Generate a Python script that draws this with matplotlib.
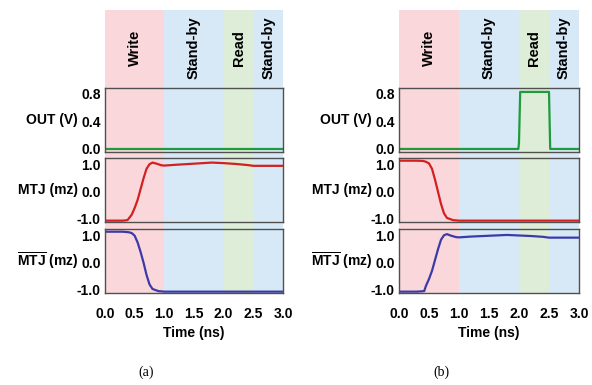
import matplotlib.pyplot as plt

plt.rcParams["font.family"] = ["Liberation Sans", "DejaVu Sans"]
plt.rcParams["font.weight"] = "bold"
plt.rcParams["mathtext.fontset"] = "custom"
plt.rcParams["mathtext.rm"] = "Liberation Sans:bold"
plt.rcParams["mathtext.bf"] = "Liberation Sans:bold"

# phases (ns)
PHASES = [("Write", 0.0, 1.0), ("Stand-by", 1.0, 2.0), ("Read", 2.0, 2.5), ("Stand-by", 2.5, 3.0)]
PHASE_COLORS = ["#fad7da", "#d7e9f6", "#ddedd8", "#d7e9f6"]

X_TICKS = [0.0, 0.5, 1.0, 1.5, 2.0, 2.5, 3.0]

# panel (a): write "1"
t_out_a = [0.0, 3.0]
out_a = [0.0, 0.0]

t_mtj_a = [0.0, 0.3, 0.38, 0.45, 0.5, 0.55, 0.6, 0.65, 0.7, 0.75, 0.8, 0.87, 0.95, 1.0,
           1.2, 1.5, 1.8, 2.0, 2.2, 2.4, 2.5, 2.7, 3.0]
mtj_a = [-1.07, -1.07, -1.05, -0.85, -0.6, -0.3, 0.1, 0.5, 0.85, 1.02, 1.08, 1.04, 0.98, 0.97,
         1.0, 1.04, 1.08, 1.06, 1.03, 0.99, 0.96, 0.96, 0.96]

t_mtjb_a = [0.0, 0.3, 0.4, 0.45, 0.5, 0.55, 0.6, 0.65, 0.7, 0.75, 0.8, 0.9, 1.0, 3.0]
mtjb_a = [1.15, 1.15, 1.13, 1.1, 1.0, 0.75, 0.4, 0.0, -0.45, -0.8, -0.97, -1.05, -1.07, -1.07]

# panel (b): read after write
t_out_b = [0.0, 1.99, 2.0, 2.02, 2.5, 2.52, 3.0]
out_b = [0.0, 0.0, 0.1, 0.83, 0.83, 0.0, 0.0]

t_mtj_b = [0.0, 0.3, 0.4, 0.45, 0.5, 0.55, 0.6, 0.65, 0.7, 0.75, 0.8, 0.9, 1.0, 3.0]
mtj_b = [1.15, 1.15, 1.14, 1.11, 1.05, 0.85, 0.45, 0.0, -0.45, -0.8, -0.97, -1.05, -1.07, -1.07]

t_mtjb_b = [0.0, 0.3, 0.42, 0.45, 0.5, 0.55, 0.6, 0.65, 0.7, 0.75, 0.8, 0.87, 0.95, 1.0,
            1.2, 1.5, 1.8, 2.0, 2.2, 2.4, 2.5, 2.7, 3.0]
mtjb_b = [-1.07, -1.07, -1.05, -0.85, -0.6, -0.3, 0.1, 0.5, 0.85, 1.02, 1.06, 1.0, 0.95, 0.94,
          0.97, 1.0, 1.03, 1.01, 0.99, 0.96, 0.93, 0.93, 0.93]

W, H = 592, 385
FRAME = "#505050"
FS = 10


def px_axes(fig, x0, y_top, w, y_bot):
    return fig.add_axes([x0 / W, 1 - y_bot / H, w / W, (y_bot - y_top) / H])


def draw_panel(fig, x0, w, out, mtj, mtjb, caption):
    bg = px_axes(fig, x0, 10, w, 293)
    bg.set_xlim(0, 3)
    bg.set_ylim(0, 1)
    bg.axis("off")
    for (name, a, b), c in zip(PHASES, PHASE_COLORS):
        bg.axvspan(a, b, color=c, lw=0)
        bg.text((a + b) / 2, 0.866, name, rotation=90, ha="center", va="center",
                fontsize=10.5, fontweight="bold")

    rows = [
        (88, 152, out, "#1f9a3c", (-0.044, 0.887), [0.0, 0.4, 0.8], "OUT (V)"),
        (158, 222, mtj, "#d42020", (-1.12, 1.25), [-1.0, 0.0, 1.0], "MTJ (mz)"),
        (229, 293, mtjb, "#3b3ba8", (-1.12, 1.25), [-1.0, 0.0, 1.0], r"$\overline{\mathrm{MTJ}}$ (mz)"),
    ]
    for i, (yt, yb, (t, v), color, ylim, yticks, label) in enumerate(rows):
        ax = px_axes(fig, x0, yt, w, yb)
        ax.set_facecolor("none")
        ax.plot(t, v, color=color, lw=1.6)
        ax.set_xlim(0, 3)
        ax.set_ylim(*ylim)
        ax.set_yticks(yticks)
        ax.set_yticklabels([f"{y:.1f}" for y in yticks])
        ax.set_xticks(X_TICKS)
        ax.tick_params(length=0, labelsize=FS, pad=3)
        for s in ax.spines.values():
            s.set_color(FRAME)
            s.set_linewidth(1.0)
        ax.set_ylabel(label, rotation=0, ha="right", va="center", fontsize=FS, fontweight="bold")
        ax.yaxis.set_label_coords(-27 / w, 0.5)
        if i == 2:
            ax.set_xticklabels([f"{x:.1f}" for x in X_TICKS])
            ax.tick_params(axis="x", pad=10)
            ax.set_xlabel("Time (ns)", fontsize=FS, fontweight="bold", labelpad=4)
        else:
            ax.set_xticklabels([])

    fig.text((x0 + w / 2 - 48) / W, 1 - 372 / H, caption, ha="center", va="center",
             fontsize=10, fontweight="normal", family="Liberation Serif")


fig = plt.figure(figsize=(W / 100, H / 100), dpi=100)
draw_panel(fig, 105, 178, (t_out_a, out_a), (t_mtj_a, mtj_a), (t_mtjb_a, mtjb_a), "(a)")
draw_panel(fig, 399, 180, (t_out_b, out_b), (t_mtj_b, mtj_b), (t_mtjb_b, mtjb_b), "(b)")
fig.savefig("out.png", dpi=100)
